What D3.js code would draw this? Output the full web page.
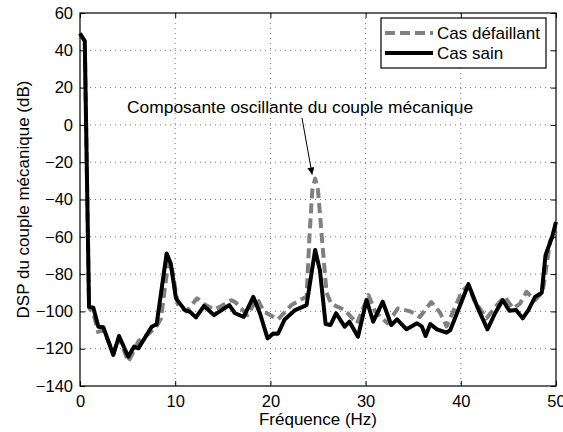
<!DOCTYPE html>
<html>
<head>
<meta charset="utf-8">
<script src="https://cdn.jsdelivr.net/npm/d3@7"></script>
<style>
  html, body { margin: 0; padding: 0; background: #fff; }
  svg { display: block; font-family: "Liberation Sans", Arial, Helvetica, sans-serif; }
</style>
</head>
<body>
<svg id="chart" width="563" height="432"></svg>
<script>
// Spectre du couple mécanique : cas sain vs cas défaillant
const freqSain = [0, 0.5, 0.95, 1.4, 1.93, 2.45, 3.5, 4.1, 5.07, 5.67, 6.13, 7.53, 8.05, 9.1, 9.53,
  10.08, 11.03, 11.55, 12.18, 13.03, 14.08, 14.88, 15.68, 16.28, 17.2, 18.2, 18.9, 19.7, 20.3,
  20.8, 21.5, 22.6, 23.8, 24.7, 25.2, 25.8, 26.3, 26.9, 27.8, 28.3, 29.2, 30.1, 30.8, 31.8, 32.7,
  33.3, 34.3, 35.4, 35.9, 36.3, 36.8, 37.5, 38.5, 38.9, 40.8, 41.8, 42.8, 43.6, 44.4, 45.1, 45.8,
  46.5, 47.1, 47.8, 48.5, 48.9, 49.6, 50];
const dspSain = [49, 45, -97.5, -98, -108.2, -108.5, -123.4, -113.2, -124.3, -118.9, -119.8, -108.2,
  -106.9, -68.9, -74.3, -93, -99.3, -100.2, -103.2, -97.1, -102, -99.3, -96.6, -101, -102.9, -92.2,
  -101, -114.5, -111.8, -112, -104.3, -99.3, -96.6, -67.1, -77.9, -106.8, -107.3, -101, -108.2,
  -105.5, -113.6, -93.9, -105.5, -94.8, -107.3, -104.3, -109.6, -106.4, -108, -113.2, -106.8,
  -109.6, -111.4, -110, -85.4, -98.4, -109.6, -101, -93.9, -99.6, -99.3, -103.7, -99.3, -92.2,
  -90, -69.8, -60, -52];

const freqDefaut = [0, 0.5, 0.95, 1.4, 1.9, 2.45, 3.5, 4.1, 5.07, 5.67, 6.13, 7.2, 8.05, 8.5, 9.3,
  9.7, 10.3, 11.2, 12.3, 13.0, 14.1, 14.9, 15.9, 16.3, 17.6, 18.6, 19.3, 20.8, 22.2, 23.8, 24.1,
  24.4, 24.7, 25.0, 25.4, 25.9, 26.4, 27.8, 29.1, 30.3, 31.0, 32.3, 33.4, 34.7, 35.7, 36.9, 37.8,
  38.5, 39.2, 40.1, 40.8, 41.4, 42.7, 43.8, 44.6, 45.5, 46.2, 46.9, 47.8, 48.6, 49.4, 50];
const dspDefaut = [49, 45, -98, -101, -111, -110, -122, -114, -127, -121, -116, -112, -108, -104,
  -72.5, -78, -97, -100, -93, -96, -99, -97, -94, -95, -102, -93, -100, -104.3, -96.6, -92, -60,
  -35, -28.8, -35, -60, -90, -96, -99.2, -106.4, -91.2, -100, -106.4, -98.4, -100, -103, -95,
  -100.5, -108, -100, -89.5, -86, -94, -103.7, -96.6, -92.2, -98.4, -96, -89.5, -94, -89.5, -62,
  -57];

const xTicks = [0, 10, 20, 30, 40, 50];
const yTicks = [-140, -120, -100, -80, -60, -40, -20, 0, 20, 40, 60];

const seriesNames = ["Cas défaillant", "Cas sain"];
const xTitle = "Fréquence (Hz)";
const yTitle = "DSP du couple mécanique (dB)";
const noteText = "Composante oscillante du couple mécanique";
const notePoint = [24.7, -28.8];

const svg = d3.select("#chart");
const L = 80, R = 556, T = 13, B = 386;
const x = d3.scaleLinear().domain([0, 50]).range([L, R]);
const y = d3.scaleLinear().domain([-140, 60]).range([B, T]);
const fs = 16.5;

// dotted grid
const grid = svg.append("g").attr("stroke", "#777").attr("stroke-width", 1)
  .attr("stroke-dasharray", "1,4");
grid.selectAll(".gx").data(xTicks.slice(1, -1)).join("line")
  .attr("x1", d => x(d)).attr("x2", d => x(d)).attr("y1", T).attr("y2", B);
grid.selectAll(".gy").data(yTicks.slice(1, -1)).join("line")
  .attr("x1", L).attr("x2", R).attr("y1", d => y(d)).attr("y2", d => y(d));

// curves
const line = (fx, fy) => d3.line().x((d, i) => x(fx[i])).y(d => y(d))(fy);
svg.append("path").attr("d", line(freqDefaut, dspDefaut))
  .attr("fill", "none").attr("stroke", "#808080").attr("stroke-width", 4)
  .attr("stroke-dasharray", "10,5").attr("stroke-linejoin", "round");
svg.append("path").attr("d", line(freqSain, dspSain))
  .attr("fill", "none").attr("stroke", "#000").attr("stroke-width", 4)
  .attr("stroke-linejoin", "round");

// axes with inward ticks on all four sides
const styleAxis = g => {
  g.select(".domain").remove();
  g.selectAll(".tick line").attr("stroke", "#000").attr("stroke-width", 1);
  g.selectAll(".tick text").attr("fill", "#000").attr("font-size", fs)
    .attr("font-family", "Liberation Sans, Arial, sans-serif");
};
svg.append("g").attr("transform", `translate(0,${B})`)
  .call(d3.axisBottom(x).tickValues(xTicks).tickSize(-5).tickPadding(9))
  .call(styleAxis);
svg.append("g").attr("transform", `translate(0,${T})`)
  .call(d3.axisTop(x).tickValues(xTicks).tickSize(-5).tickFormat(""))
  .call(styleAxis);
svg.append("g").attr("transform", `translate(${L},0)`)
  .call(d3.axisLeft(y).tickValues(yTicks).tickSize(-5).tickPadding(7))
  .call(styleAxis);
svg.append("g").attr("transform", `translate(${R},0)`)
  .call(d3.axisRight(y).tickValues(yTicks).tickSize(-5).tickFormat(""))
  .call(styleAxis);

// plot frame
svg.append("rect").attr("x", L).attr("y", T).attr("width", R - L).attr("height", B - T)
  .attr("fill", "none").attr("stroke", "#000").attr("stroke-width", 1.2);

// axis titles
svg.append("text").attr("x", (L + R) / 2).attr("y", 425).attr("text-anchor", "middle")
  .attr("font-size", 17).text(xTitle);
svg.append("text").attr("transform", `translate(29,${(T + B) / 2}) rotate(-90)`)
  .attr("text-anchor", "middle").attr("font-size", 17).text(yTitle);

// annotation with arrow
svg.append("defs").append("marker").attr("id", "arrowHead")
  .attr("viewBox", "0 0 10 10").attr("refX", 10).attr("refY", 5)
  .attr("markerWidth", 9).attr("markerHeight", 7).attr("orient", "auto")
  .attr("markerUnits", "userSpaceOnUse")
  .append("path").attr("d", "M0,0 L10,5 L0,10 Z").attr("fill", "#000");
svg.append("text").attr("x", 127).attr("y", 113).attr("font-size", 17.4).text(noteText);
svg.append("line").attr("x1", 302).attr("y1", 118)
  .attr("x2", x(notePoint[0]) - 3).attr("y2", y(notePoint[1]) - 4)
  .attr("stroke", "#000").attr("stroke-width", 1).attr("marker-end", "url(#arrowHead)");

// legend
const lg = svg.append("g");
lg.append("rect").attr("x", 381).attr("y", 18).attr("width", 165).attr("height", 50)
  .attr("fill", "#fff").attr("stroke", "#000").attr("stroke-width", 1.2);
const legendStyles = [
  { color: "#808080", dash: "10,5", w: 4 },
  { color: "#000", dash: null, w: 4 }
];
seriesNames.forEach((name, i) => {
  const cy = 33 + i * 20;
  lg.append("line").attr("x1", 385).attr("x2", 433).attr("y1", cy).attr("y2", cy)
    .attr("stroke", legendStyles[i].color).attr("stroke-width", legendStyles[i].w)
    .attr("stroke-dasharray", legendStyles[i].dash);
  lg.append("text").attr("x", 437).attr("y", cy + 6).attr("font-size", 17).text(name);
});
</script>
</body>
</html>
